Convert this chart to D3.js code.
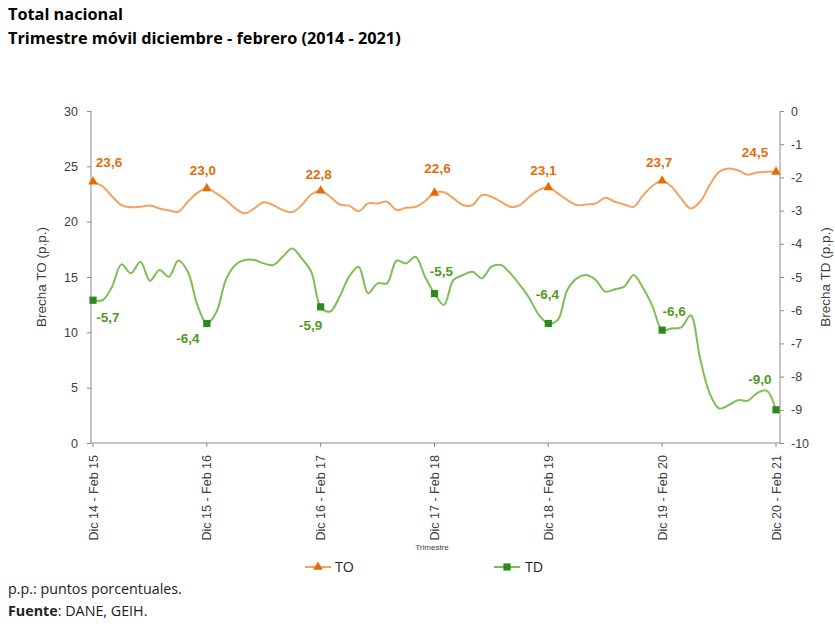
<!DOCTYPE html>
<html lang="es">
<head>
<meta charset="UTF-8">
<title>Brecha TO y TD - Total nacional</title>
<script src="https://d3js.org/d3.v7.min.js"></script>
<style>
    body { margin: 0; background: #fff; }
    svg { display: block; }
    .title { font-family: "Open Sans", sans-serif; font-weight: bold; font-size: 16.3px; fill: #000; }
    .axis text { font-family: "Liberation Sans", Arial, sans-serif; font-size: 12.5px; fill: #404040; }
    .axis path, .axis line { stroke: #8c8c8c; }
    .ytitle { font-family: "Liberation Sans", Arial, sans-serif; font-size: 13.5px; fill: #404040; }
    .lbl { font-family: "Liberation Sans", Arial, sans-serif; font-size: 13.5px; font-weight: bold; }
    .note { font-family: "Open Sans", sans-serif; font-size: 14.3px; fill: #222; }
</style>
</head>
<body>
<svg id="chart" width="835" height="630"></svg>
<script>
// trimestres moviles (solo los rotulados en el eje)
const tickLabels = ["Dic 14 - Feb 15", "Dic 15 - Feb 16", "Dic 16 - Feb 17", "Dic 17 - Feb 18",
                    "Dic 18 - Feb 19", "Dic 19 - Feb 20", "Dic 20 - Feb 21"];
const tickIndex = [0, 12, 24, 36, 48, 60, 72];

// brecha TO (p.p.), mensual
const toValues = [
    23.6, 23.2, 22.3, 21.5, 21.3, 21.35, 21.45, 21.2, 21.0, 20.9, 21.8, 22.6,
    23.0, 22.55, 21.95, 21.2, 20.75, 21.2, 21.75, 21.5, 21.05, 20.85, 21.5, 22.45,
    22.8, 22.25, 21.55, 21.45, 20.95, 21.65, 21.65, 21.8, 21.05, 21.25, 21.35, 21.85,
    22.6, 22.65, 22.1, 21.5, 21.5, 22.4, 22.25, 21.8, 21.35, 21.5, 22.25, 22.85,
    23.1, 22.55, 21.95, 21.5, 21.55, 21.65, 22.15, 21.8, 21.55, 21.35, 22.4, 23.25,
    23.7, 23.15, 22.1, 21.2, 21.8, 23.3, 24.5, 24.8, 24.65, 24.25, 24.45, 24.5,
    24.5
];

// brecha TD (p.p.), mensual
const tdValues = [
    -5.7, -5.7, -5.3, -4.62, -4.89, -4.54, -5.11, -4.79, -4.99, -4.5, -4.84, -5.84,
    -6.4, -6.06, -5.09, -4.64, -4.49, -4.49, -4.59, -4.64, -4.39, -4.14, -4.44, -4.84,
    -5.9, -6.04, -5.59, -4.99, -4.69, -5.49, -5.19, -5.19, -4.51, -4.59, -4.39, -4.99,
    -5.5, -5.84, -5.09, -4.94, -4.84, -5.04, -4.69, -4.64, -4.89, -5.24, -5.64, -6.14,
    -6.4, -6.29, -5.39, -5.04, -4.94, -5.09, -5.44, -5.37, -5.29, -4.94, -5.34, -5.89,
    -6.6, -6.55, -6.52, -6.15, -7.45, -8.5, -8.96, -8.86, -8.71, -8.73, -8.5, -8.42,
    -9.0
];

const leftTicks = [0, 5, 10, 15, 20, 25, 30];
const rightTicks = [0, -1, -2, -3, -4, -5, -6, -7, -8, -9, -10];

// posicion de las etiquetas de datos respecto al marcador
const toLabelOffsets = [[16, -15], [-4, -13], [-2, -12], [3, -20], [-5, -12], [-3, -14], [-21, -15]];
const tdLabelOffsets = [[15, 22], [-19, 20], [-10, 23], [7, -18], [-1, -24], [12, -14], [-16, -26]];

const colTOLine = "#f4a261", colTOMark = "#e36c09", colTOText = "#e36c09";
const colTDLine = "#7cbf55", colTDMark = "#2b8a1f", colTDText = "#4f9a1a";

const svg = d3.select("#chart");
const fmt = d3.formatLocale({ decimal: ",", thousands: ".", grouping: [3], currency: ["", ""], minus: "-" }).format(".1f");

const x = d3.scaleLinear().domain([0, 72]).range([93, 776]);
const yL = d3.scaleLinear().domain([0, 30]).range([443, 111]);
const yR = d3.scaleLinear().domain([-10, 0]).range([443, 111]);

// titulos
svg.append("text").attr("class", "title").attr("x", 8).attr("y", 20).text("Total nacional");
svg.append("text").attr("class", "title").attr("x", 8).attr("y", 44)
    .text("Trimestre móvil diciembre - febrero (2014 - 2021)");

// ejes
svg.append("g").attr("class", "axis").attr("transform", "translate(91,0)")
    .call(d3.axisLeft(yL).tickValues(leftTicks).tickSize(4).tickPadding(9))
    .call(g => g.select(".domain").attr("d", "M0,111V443"));

svg.append("g").attr("class", "axis").attr("transform", "translate(780,0)")
    .call(d3.axisRight(yR).tickValues(rightTicks).tickFormat(d => String(d)).tickSize(4).tickPadding(7))
    .call(g => g.select(".domain").attr("d", "M0,111V443"));

const xa = svg.append("g").attr("class", "axis").attr("transform", "translate(0,443)");
xa.append("line").attr("x1", 91).attr("x2", 780).attr("stroke", "#8c8c8c");
xa.selectAll("line.t").data(tickIndex).join("line").attr("class", "t")
    .attr("x1", d => x(d)).attr("x2", d => x(d)).attr("y1", 0).attr("y2", 4)
    .attr("stroke", "#8c8c8c");
xa.selectAll("text").data(tickIndex).join("text")
    .attr("transform", d => `translate(${x(d) + 4.5},12) rotate(-90)`)
    .attr("text-anchor", "end")
    .text((d, i) => tickLabels[i]);

svg.append("text").attr("x", 432).attr("y", 550).attr("text-anchor", "middle")
    .style("font-family", "Liberation Sans, Arial, sans-serif").style("font-size", "8px")
    .attr("fill", "#404040").text("Trimestre");

svg.append("text").attr("class", "ytitle")
    .attr("transform", "translate(46,277) rotate(-90)").attr("text-anchor", "middle")
    .text("Brecha TO (p.p.)");
svg.append("text").attr("class", "ytitle")
    .attr("transform", "translate(830,277) rotate(-90)").attr("text-anchor", "middle")
    .text("Brecha TD (p.p.)");

// lineas
const lineTO = d3.line().x((d, i) => x(i)).y(d => yL(d)).curve(d3.curveCatmullRom.alpha(0.5));
const lineTD = d3.line().x((d, i) => x(i)).y(d => yR(d)).curve(d3.curveCatmullRom.alpha(0.5));

svg.append("path").datum(toValues).attr("d", lineTO)
    .attr("fill", "none").attr("stroke", colTOLine).attr("stroke-width", 2);
svg.append("path").datum(tdValues).attr("d", lineTD)
    .attr("fill", "none").attr("stroke", colTDLine).attr("stroke-width", 2);

const tri = d3.symbol().type(d3.symbolTriangle).size(40);
const sq = d3.symbol().type(d3.symbolSquare).size(52);

svg.selectAll("path.mto").data(tickIndex).join("path").attr("class", "mto")
    .attr("d", tri).attr("fill", colTOMark)
    .attr("transform", d => `translate(${x(d)},${yL(toValues[d])})`);
svg.selectAll("path.mtd").data(tickIndex).join("path").attr("class", "mtd")
    .attr("d", sq).attr("fill", colTDMark)
    .attr("transform", d => `translate(${x(d)},${yR(tdValues[d])})`);

svg.selectAll("text.lto").data(tickIndex).join("text").attr("class", "lbl lto")
    .attr("x", (d, i) => x(d) + toLabelOffsets[i][0])
    .attr("y", (d, i) => yL(toValues[d]) + toLabelOffsets[i][1])
    .attr("text-anchor", "middle").attr("fill", colTOText)
    .text(d => fmt(toValues[d]));
svg.selectAll("text.ltd").data(tickIndex).join("text").attr("class", "lbl ltd")
    .attr("x", (d, i) => x(d) + tdLabelOffsets[i][0])
    .attr("y", (d, i) => yR(tdValues[d]) + tdLabelOffsets[i][1])
    .attr("text-anchor", "middle").attr("fill", colTDText)
    .text(d => fmt(tdValues[d]));

// leyenda
const leg = svg.append("g").attr("transform", "translate(0,567)");
leg.append("line").attr("x1", 305).attr("x2", 331).attr("stroke", colTOLine).attr("stroke-width", 2);
leg.append("path").attr("d", tri).attr("fill", colTOMark).attr("transform", "translate(318,0)");
leg.append("text").attr("x", 335).attr("y", 5).attr("class", "note").text("TO");
leg.append("line").attr("x1", 494).attr("x2", 520).attr("stroke", colTDLine).attr("stroke-width", 2);
leg.append("path").attr("d", sq).attr("fill", colTDMark).attr("transform", "translate(507,0)");
leg.append("text").attr("x", 525).attr("y", 5).attr("class", "note").text("TD");

// notas
svg.append("text").attr("class", "note").attr("x", 8).attr("y", 594).text("p.p.: puntos porcentuales.");
const src = svg.append("text").attr("class", "note").attr("x", 8).attr("y", 616);
src.append("tspan").style("font-weight", "bold").text("Fuente");
src.append("tspan").text(": DANE, GEIH.");
</script>
</body>
</html>
